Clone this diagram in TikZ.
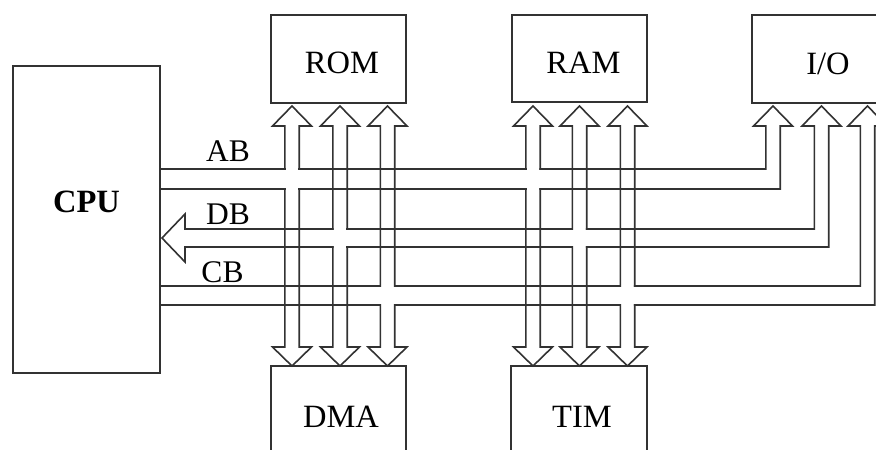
\documentclass[tikz,border=0pt]{standalone}
\usepackage{fontspec}
\setmainfont{Liberation Serif}
\definecolor{ln}{RGB}{50,50,50}
\begin{document}
\begin{tikzpicture}[x=1pt,y=-1pt,
  box/.style={draw=ln, line width=1.6pt, inner sep=0pt, outer sep=0pt},
  pipe/.style={draw=ln, line width=1.6pt, line cap=rect, line join=miter},
  lbl/.style={font=\fontsize{32.5}{34}\selectfont, anchor=base, inner sep=0pt},
  blbl/.style={font=\fontsize{31.5}{33}\selectfont, anchor=base, inner sep=0pt}]
\useasboundingbox (0,0) rectangle (876,450);
\clip (0,0) rectangle (876,450);
% boxes
\node[box, minimum width=147pt, minimum height=307pt] (cpu) at (86.5,219.5) {};
\node[box, minimum width=135pt, minimum height=88pt] (rom) at (338.5,59) {};
\node[box, minimum width=135pt, minimum height=87pt] (ram) at (579.5,58.5) {};
\node[box, minimum width=138pt, minimum height=88pt] (io) at (821,59) {};
\node[box, minimum width=135pt, minimum height=104pt] (dma) at (338.5,418) {};
\node[box, minimum width=136pt, minimum height=104pt] (tim) at (579,418) {};
% box labels
\node[lbl, font=\fontsize{32.5}{34}\selectfont\bfseries] (cpul) at (86.5,212) {CPU};
\node[lbl] (roml) at (342,73) {ROM};
\node[lbl] (raml) at (583.5,73) {RAM};
\node[lbl] (iol) at (828,74) {I/O};
\node[lbl] (dmal) at (341,427) {DMA};
\node[lbl] (timl) at (582,427) {TIM};
% bus labels
\node[blbl] (abl) at (228,161) {AB};
\node[blbl] (dbl) at (228,224) {DB};
\node[blbl] (cbl) at (222.5,282) {CB};
% vertical pipes ROM->DMA and RAM->TIM: center / bus top / bus bottom
\foreach \c/\ya/\yb in {292/169/189, 340/229/247, 387.5/286/305,
                        533/169/189, 579.5/229/247, 627.5/286/305}{
  \draw[pipe] (\c-7.2,\ya) -- (\c-7.2,126) -- (\c-19.5,126) -- (\c,106)
              -- (\c+19.5,126) -- (\c+7.2,126) -- (\c+7.2,\ya);
  \draw[pipe] (\c-7.2,\yb) -- (\c-7.2,347) -- (\c-19.5,347) -- (\c,366)
              -- (\c+19.5,347) -- (\c+7.2,347) -- (\c+7.2,\yb);
}
% buses: ROM center / RAM center / IO center / top / bottom
\foreach \cr/\cm/\ci/\ya/\yb in {292/533/773/169/189, 340/579.5/821.5/229/247, 387.5/627.5/867.5/286/305}{
  \draw[pipe] (\cr+7.2,\ya) -- (\cm-7.2,\ya);
  \draw[pipe] (\cr+7.2,\yb) -- (\cm-7.2,\yb);
  \draw[pipe] (\cm+7.2,\yb) -- (\ci+7.2,\yb) -- (\ci+7.2,126) -- (\ci+19.5,126)
              -- (\ci,106) -- (\ci-19.5,126) -- (\ci-7.2,126) -- (\ci-7.2,\ya) -- (\cm+7.2,\ya);
}
% bus ends at CPU
\draw[pipe] (cpu.east |- 0,169) -- (292-7.2,169);
\draw[pipe] (cpu.east |- 0,189) -- (292-7.2,189);
\draw[pipe] (340-7.2,229) -- (185,229) -- (185,214) -- (162,238) -- (185,262)
            -- (185,247) -- (340-7.2,247);
\draw[pipe] (cpu.east |- 0,286) -- (387.5-7.2,286);
\draw[pipe] (cpu.east |- 0,305) -- (387.5-7.2,305);
\end{tikzpicture}
\end{document}
